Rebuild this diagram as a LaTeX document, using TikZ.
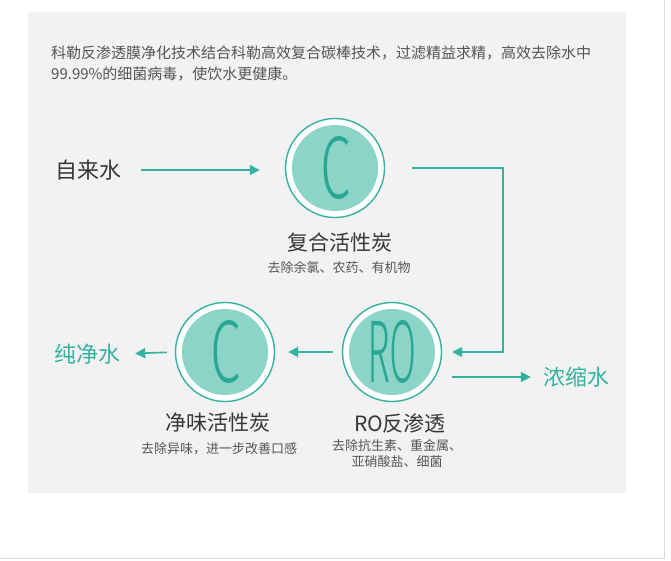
\documentclass[tikz,border=0pt]{standalone}
\usepackage{fontspec}
\setmainfont{Noto Sans CJK SC}
\IfFontExistsTF{Fira Sans Light}{\newfontfamily\thinfont{Fira Sans Light}}{%
  \IfFontExistsTF{Fira Sans ExtraLight}{\newfontfamily\thinfont{Fira Sans ExtraLight}}{%
    \IfFontExistsTF{Lato Light}{\newfontfamily\thinfont{Lato Light}}{%
      \IfFontExistsTF{DejaVu Sans ExtraLight}{\newfontfamily\thinfont{DejaVu Sans ExtraLight}}{%
        \newfontfamily\thinfont{Fira Sans}}}}}
\usetikzlibrary{arrows.meta}
\definecolor{tealline}{RGB}{52,178,160}
\definecolor{tealfill}{RGB}{140,212,200}
\definecolor{tealletter}{RGB}{40,168,148}
\definecolor{panelgray}{RGB}{242,242,242}
\definecolor{darktext}{RGB}{55,55,55}
\definecolor{softtext}{RGB}{85,85,85}

\begin{document}
\begin{tikzpicture}[x=1pt, y=-1pt,
    flow/.style={tealline, line width=1.6pt, -{Triangle[length=10pt,width=10pt]}},
    ring/.style={circle, draw=tealline, line width=1.4pt, fill=white, minimum size=99pt, inner sep=0pt,
      path picture={\fill[tealfill] (path picture bounding box.center) circle (43pt);}},
    title/.style={inner sep=0pt, text=darktext, font=\fontsize{21}{24}\selectfont},
    note/.style={inner sep=0pt, text=softtext, align=center, font=\fontsize{13}{16}\selectfont},
    water/.style={inner sep=0pt, font=\fontsize{22}{24}\selectfont}]
    \useasboundingbox (0,0) rectangle (671,560);
    \fill[white] (0,0) rectangle (671,560);
    \fill[panelgray] (28,12) rectangle (626,493);
    \draw[black!15, line width=1pt] (664,0) -- (664,558) -- (0,558);
    % intro text
    \node[inner sep=0pt, anchor=west, text=softtext, align=left, font=\fontsize{15}{21}\selectfont] (intro) at (51,63)
      {科勒反渗透膜净化技术结合科勒高效复合碳棒技术，过滤精益求精，高效去除水中\\99.99\%的细菌病毒，使饮水更健康。};
    % filters
    \node[ring] (carbon) at (335,168) {\thinfont\color{tealletter}\resizebox{30pt}{62pt}{C}};
    \node[ring] (ro) at (392,352) {\thinfont\color{tealletter}\resizebox{50pt}{62pt}{RO}};
    \node[ring] (taste) at (225,352) {\thinfont\color{tealletter}\resizebox{30pt}{62pt}{C}};
    \node[title] (carbontitle) at (340,243) {复合活性炭};
    \node[note] (carbonnote) at (339,267) {去除余氯、农药、有机物};
    \node[title] (rotitle) at (400,423) {RO反渗透};
    \node[note] (ronote) at (397,453) {去除抗生素、重金属、\\亚硝酸盐、细菌};
    \node[title] (tastetitle) at (218,423) {净味活性炭};
    \node[note] (tastenote) at (219,449) {去除异味，进一步改善口感};
    % water
    \node[water, text=darktext] (tap) at (88,170) {自来水};
    \node[water, text=tealline] (pure) at (87,354) {纯净水};
    \node[water, text=tealline] (waste) at (576,377) {浓缩水};
    \coordinate (bend) at (503,168);
    % arrows
    \draw[flow, shorten <=20pt, shorten >=25pt] (tap.east) -- (tap.east -| carbon.west);
    \draw[flow, shorten <=27pt, shorten >=10pt] (carbon.east) -- (bend) |- (ro.east);
    \draw[flow, shorten <=10pt, shorten >=12pt] ([yshift=-25pt]ro.east) -- (waste.west);
    \draw[flow, shorten <=9pt, shorten >=13pt] (ro.west) -- (taste.east);
    \draw[flow, shorten <=8pt, shorten >=15pt] (taste.west) -- (pure.east);
  \end{tikzpicture}
\end{document}
